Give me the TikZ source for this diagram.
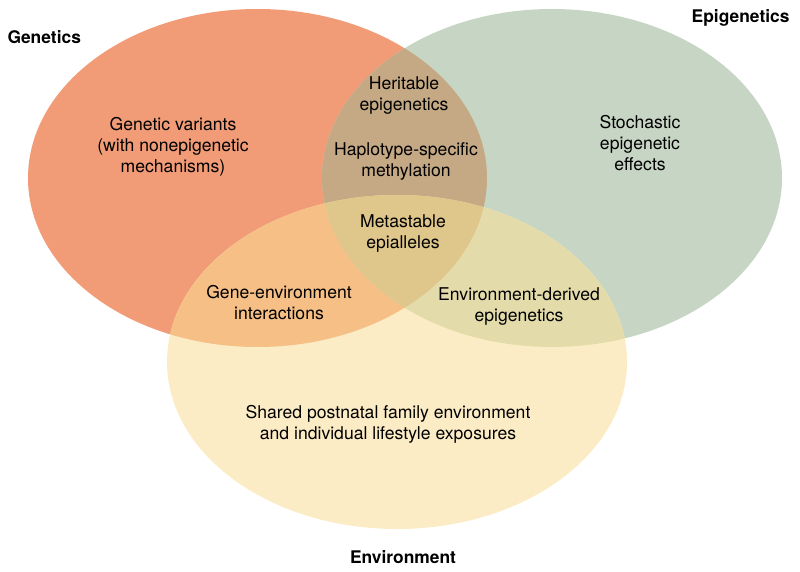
\documentclass[tikz,border=0pt]{standalone}
\usepackage{fontspec}
\setmainfont{TeX Gyre Heros}

\definecolor{gencol}{HTML}{F19C77}
\definecolor{epicol}{HTML}{C7D5C4}
\definecolor{envcol}{HTML}{FBECC5}
\definecolor{genepi}{HTML}{C5A985}
\definecolor{genenv}{HTML}{F5BF85}
\definecolor{epienv}{HTML}{E3DCAA}
\definecolor{allcol}{HTML}{DFC68B}

\newcommand{\genset}{(257.5,178) ellipse [x radius=229.5, y radius=169]}
\newcommand{\episet}{(552,178) ellipse [x radius=230, y radius=169]}
\newcommand{\envset}{(397,362) ellipse [x radius=230, y radius=167]}

\begin{document}
\begin{tikzpicture}[x=1pt,y=-1pt]
      \tikzset { txt/.style = { align=center,font=\fontsize{17.6}{21}\selectfont } }
      \tikzset { title/.style = { font=\fontsize{17.4}{21}\selectfont\bfseries } }

      \useasboundingbox (0,0) rectangle (800,572);

      \fill[gencol] \genset;
      \fill[epicol] \episet;
      \fill[envcol] \envset;
      \begin{scope} \clip \genset; \fill[genepi] \episet; \end{scope}
      \begin{scope} \clip \genset; \fill[genenv] \envset; \end{scope}
      \begin{scope} \clip \episet; \fill[epienv] \envset; \end{scope}
      \begin{scope} \clip \genset; \clip \episet; \fill[allcol] \envset; \end{scope}

      \node[title,anchor=west] (gen) at (4,37) {Genetics};
      \node[title,anchor=east] (epi) at (793,18) {Epigenetics};
      \node[title] (env) at (403,557) {Environment};

      \node[txt] (a) at (173,147) {Genetic variants\\(with nonepigenetic\\mechanisms)};
      \node[txt] (b) at (404,96) {Heritable\\epigenetics};
      \node[txt] (c) at (406,161) {Haplotype-specific\\methylation};
      \node[txt] (d) at (403,234) {Metastable\\epialleles};
      \node[txt] (e) at (640,143) {Stochastic\\epigenetic\\effects};
      \node[txt] (f) at (279,303) {Gene-environment\\interactions};
      \node[txt] (g) at (519,307) {Environment-derived\\epigenetics};
      \node[txt] (h) at (388,424) {Shared postnatal family environment\\and individual lifestyle exposures};

    \end{tikzpicture}
\end{document}
